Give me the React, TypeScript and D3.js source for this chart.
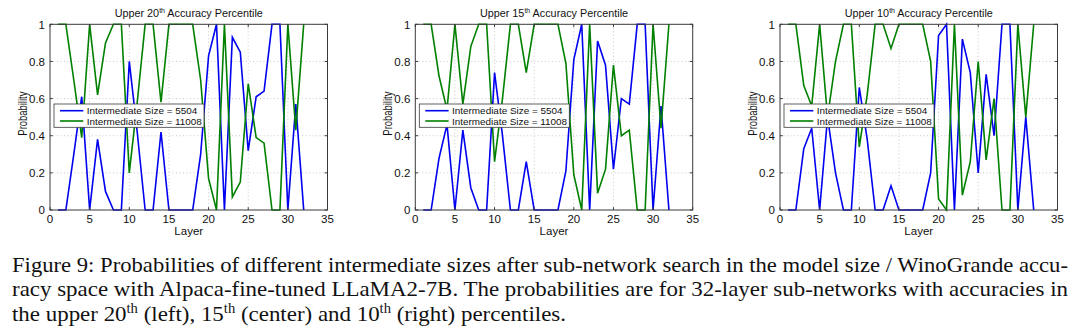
import React from "react";
import * as d3 from "d3";

const layers = [1, 2, 3, 4, 5, 6, 7, 8, 9, 10, 11, 12, 13, 14, 15, 16, 17, 18, 19, 20, 21, 22, 23, 24, 25, 26, 27, 28, 29, 30, 31, 32];

const blue20 = [0, 0, 0.3, 0.61, 0, 0.38, 0.1, 0, 0, 0.8, 0.42, 0, 0, 0.42, 0, 0, 0, 0, 0.3, 0.83, 1, 0, 0.93, 0.85, 0.32, 0.61, 0.64, 1, 1, 0, 0.57, 0];
const green20 = [1, 1, 0.7, 0.39, 1, 0.62, 0.9, 1, 1, 0.2, 0.58, 1, 1, 0.58, 1, 1, 1, 1, 0.7, 0.17, 0, 1, 0.07, 0.15, 0.68, 0.39, 0.36, 0, 0, 1, 0.43, 1];

const blue15 = [0, 0, 0.28, 0.46, 0, 0.43, 0.12, 0, 0, 0.74, 0.4, 0, 0, 0.26, 0, 0, 0, 0, 0.21, 0.81, 1, 0, 0.91, 0.78, 0.22, 0.6, 0.57, 1, 1, 0, 0.56, 0];
const green15 = [1, 1, 0.72, 0.54, 1, 0.57, 0.88, 1, 1, 0.26, 0.6, 1, 1, 0.74, 1, 1, 1, 1, 0.79, 0.19, 0, 1, 0.09, 0.22, 0.78, 0.4, 0.43, 0, 0, 1, 0.44, 1];

const blue10 = [0, 0, 0.33, 0.44, 0, 0.5, 0.2, 0, 0, 0.66, 0.38, 0, 0, 0.13, 0, 0, 0, 0, 0.2, 0.94, 1, 0, 0.92, 0.74, 0.2, 0.73, 0.4, 1, 1, 0, 0.5, 0];
const green10 = [1, 1, 0.67, 0.56, 1, 0.5, 0.8, 1, 1, 0.34, 0.62, 1, 1, 0.87, 1, 1, 1, 1, 0.8, 0.06, 0, 1, 0.08, 0.26, 0.8, 0.27, 0.6, 0, 0, 1, 0.5, 1];

const xTicks = [0, 5, 10, 15, 20, 25, 30, 35];
const yTicks = [0, 0.2, 0.4, 0.6, 0.8, 1];
const yTickLabels = ["0", "0.2", "0.4", "0.6", "0.8", "1"];
const legendLabels = ["Intermediate Size = 5504", "Intermediate Size = 11008"];
const percentiles = ["20", "15", "10"];

const captionLines = [
  "Figure 9: Probabilities of different intermediate sizes after sub-network search in the model size / WinoGrande accu-",
  "racy space with Alpaca-fine-tuned LLaMA2-7B. The probabilities are for 32-layer sub-networks with accuracies in",
];

const BLUE = "#0000f0";
const GREEN = "#008000";
const SANS = "'Liberation Sans', Arial, Helvetica, sans-serif";
const SERIF = "'Liberation Serif', 'Times New Roman', serif";

const panelDefs = [
  { pct: percentiles[0], blue: blue20, green: green20, left: 50, right: 327.5 },
  { pct: percentiles[1], blue: blue15, green: green15, left: 415.3, right: 692.7 },
  { pct: percentiles[2], blue: blue10, green: green10, left: 780, right: 1057.5 },
];

const TOP = 24.3;
const BOTTOM = 210;

function Panel({ def }: { def: any }) {
  const x = d3.scaleLinear().domain([0, 35]).range([def.left, def.right]);
  const y = d3.scaleLinear().domain([0, 1]).range([BOTTOM, TOP]);
  const line = d3
    .line<number>()
    .x((_, i) => x(layers[i]))
    .y((d) => y(d));
  const cx = (def.left + def.right) / 2;
  const cy = (TOP + BOTTOM) / 2;
  const lgX = def.left + 4;
  const lgY = 104;
  const tick = 2.8;
  return (
    <g>
      {xTicks.slice(1, -1).map((t) => (
        <line key={"gx" + t} x1={x(t)} x2={x(t)} y1={TOP} y2={BOTTOM} stroke="#bdbdbd" strokeWidth={0.8} strokeDasharray="1,2.5" />
      ))}
      {yTicks.slice(1, -1).map((t) => (
        <line key={"gy" + t} x1={def.left} x2={def.right} y1={y(t)} y2={y(t)} stroke="#bdbdbd" strokeWidth={0.8} strokeDasharray="1,2.5" />
      ))}
      <path d={line(def.blue) || ""} fill="none" stroke={BLUE} strokeWidth={1.6} strokeLinejoin="miter" />
      <path d={line(def.green) || ""} fill="none" stroke={GREEN} strokeWidth={1.6} strokeLinejoin="miter" />
      <rect x={def.left} y={TOP} width={def.right - def.left} height={BOTTOM - TOP} fill="none" stroke="#3a3a3a" strokeWidth={1} />
      {xTicks.map((t) => (
        <g key={"xt" + t}>
          <line x1={x(t)} x2={x(t)} y1={BOTTOM} y2={BOTTOM - tick} stroke="#3a3a3a" strokeWidth={1} />
          <line x1={x(t)} x2={x(t)} y1={TOP} y2={TOP + tick} stroke="#3a3a3a" strokeWidth={1} />
          <text x={x(t)} y={223.3} textAnchor="middle" fontFamily={SANS} fontSize={11.5} fill="#111">
            {t}
          </text>
        </g>
      ))}
      {yTicks.map((t, i) => (
        <g key={"yt" + t}>
          <line x1={def.left} x2={def.left + tick} y1={y(t)} y2={y(t)} stroke="#3a3a3a" strokeWidth={1} />
          <line x1={def.right} x2={def.right - tick} y1={y(t)} y2={y(t)} stroke="#3a3a3a" strokeWidth={1} />
          <text x={def.left - 5} y={y(t) + 4.2} textAnchor="end" fontFamily={SANS} fontSize={11.5} fill="#111">
            {yTickLabels[i]}
          </text>
        </g>
      ))}
      <text x={cx} y={234.5} textAnchor="middle" fontFamily={SANS} fontSize={11.5} fill="#111">
        Layer
      </text>
      <text
        transform={`translate(${def.left - 27.5},${cy - 3.5}) rotate(-90)`}
        textAnchor="middle"
        dominantBaseline="central"
        fontFamily={SANS}
        fontSize={12}
        fill="#111"
        textLength={44}
        lengthAdjust="spacingAndGlyphs"
      >
        Probability
      </text>
      <text x={cx} y={16.7} textAnchor="middle" fontFamily={SANS} fontSize={10.8} fill="#111">
        {"Upper " + def.pct}
        <tspan fontSize={7} dy={-4}>th</tspan>
        <tspan dy={4}>{" Accuracy Percentile"}</tspan>
      </text>
      <rect x={lgX} y={lgY} width={150} height={23.3} fill="#fff" stroke="#3a3a3a" strokeWidth={0.8} />
      <line x1={lgX + 6} x2={lgX + 29.3} y1={lgY + 6.7} y2={lgY + 6.7} stroke={BLUE} strokeWidth={1.6} />
      <line x1={lgX + 6} x2={lgX + 29.3} y1={lgY + 17} y2={lgY + 17} stroke={GREEN} strokeWidth={1.6} />
      <text x={lgX + 32.7} y={lgY + 10.2} fontFamily={SANS} fontSize={9.6} fill="#111" textLength={110.6} lengthAdjust="spacingAndGlyphs">
        {legendLabels[0]}
      </text>
      <text x={lgX + 32.7} y={lgY + 20.5} fontFamily={SANS} fontSize={9.6} fill="#111" textLength={115} lengthAdjust="spacingAndGlyphs">
        {legendLabels[1]}
      </text>
    </g>
  );
}

export default function App() {
  const capSize = 22;
  const supSize = 14;
  return (
    <svg
      width={1080}
      height={332}
      viewBox="0 0 1080 332"
      style={{ position: "absolute", left: 0, top: 0, background: "#fff" }}
    >
      <rect x={0} y={0} width={1080} height={332} fill="#fff" />
      {panelDefs.map((d) => (
        <Panel key={d.pct} def={d} />
      ))}
      <text x={12} y={272} fontFamily={SERIF} fontSize={capSize} fill="#111" textLength={1056} lengthAdjust="spacingAndGlyphs">
        {captionLines[0]}
      </text>
      <text x={12} y={296} fontFamily={SERIF} fontSize={capSize} fill="#111" textLength={1056} lengthAdjust="spacingAndGlyphs">
        {captionLines[1]}
      </text>
      <text x={12} y={320.5} fontFamily={SERIF} fontSize={capSize} fill="#111" textLength={554} lengthAdjust="spacingAndGlyphs">
        {"the upper 20"}
        <tspan fontSize={supSize} dy={-8}>th</tspan>
        <tspan dy={8}>{" (left), 15"}</tspan>
        <tspan fontSize={supSize} dy={-8}>th</tspan>
        <tspan dy={8}>{" (center) and 10"}</tspan>
        <tspan fontSize={supSize} dy={-8}>th</tspan>
        <tspan dy={8}>{" (right) percentiles."}</tspan>
      </text>
    </svg>
  );
}
